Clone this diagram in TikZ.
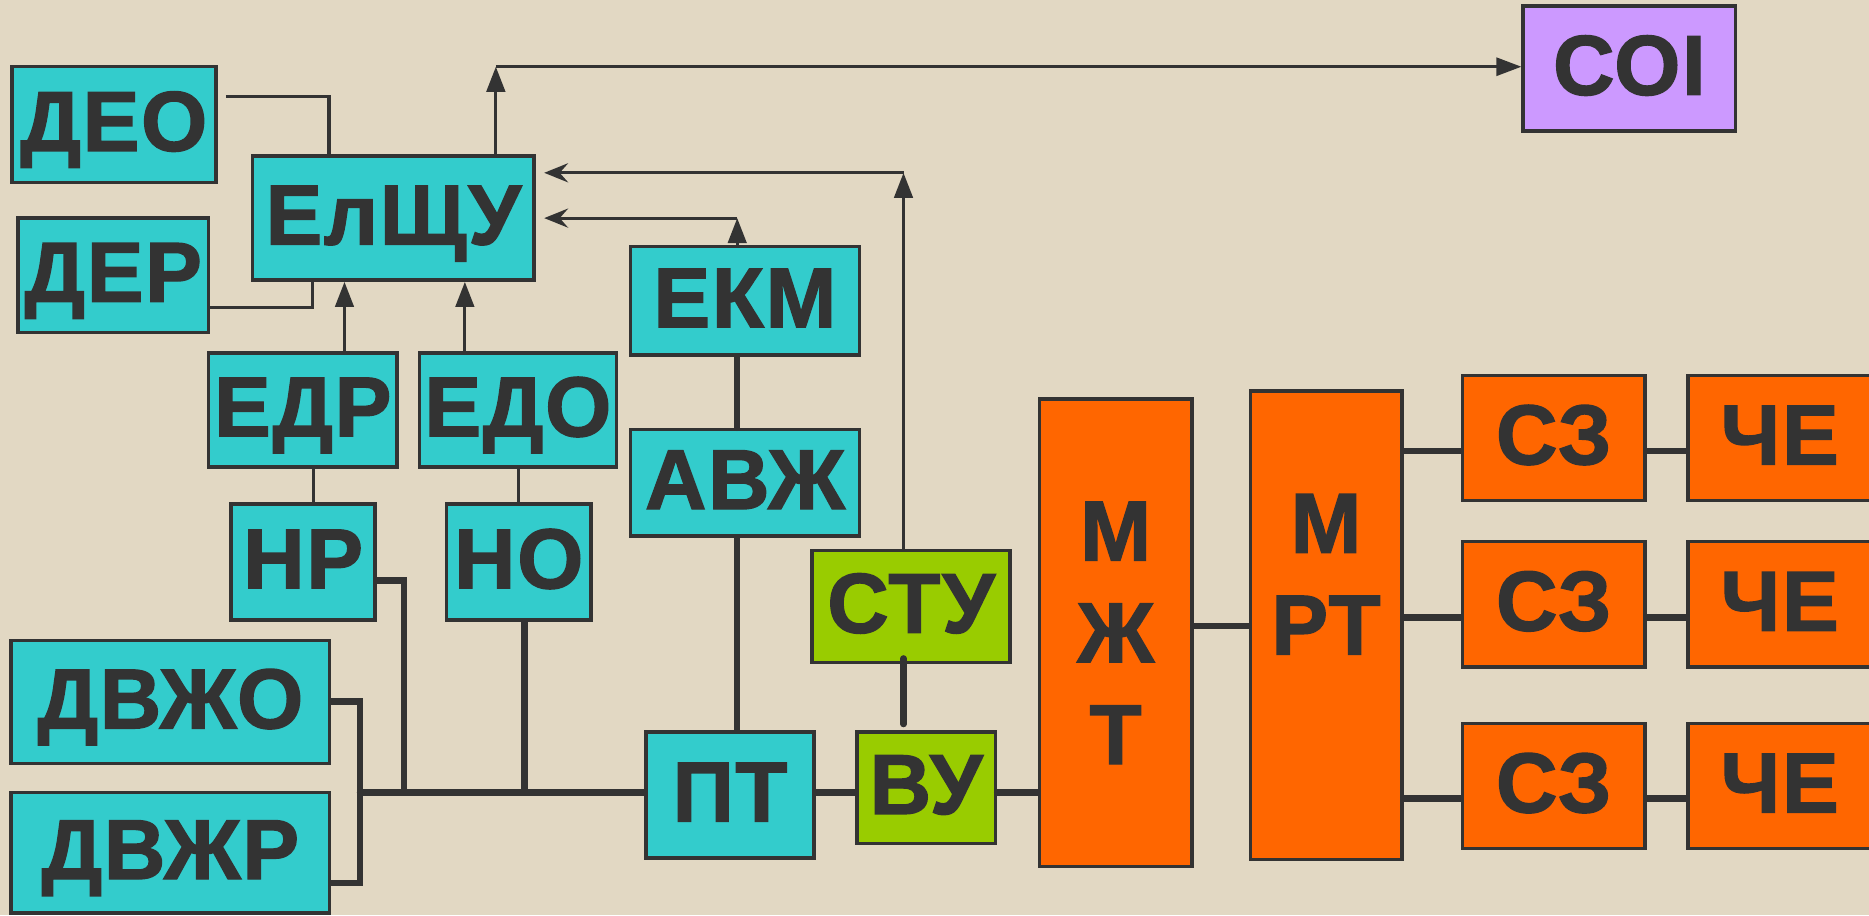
\documentclass[tikz,border=0pt]{standalone}
\usepackage{fontspec}
\setmainfont{Liberation Sans}
\newfontfamily\boxfont{Liberation Sans Bold}[FakeBold=1.6,LetterSpace=2]
\usetikzlibrary{arrows.meta}
\definecolor{bg}{HTML}{E2D8C3}
\definecolor{cy}{HTML}{33CCCC}
\definecolor{gr}{HTML}{99CC00}
\definecolor{orn}{HTML}{FF6600}
\definecolor{pur}{HTML}{CC99FF}
\definecolor{ink}{HTML}{333333}
\begin{document}
\begin{tikzpicture}[x=0.01cm,y=-0.01cm,
  box/.style={draw=ink,line width=0.85pt,inner sep=0pt,text=ink,font=\boxfont\fontsize{20.3}{24.3}\selectfont},
  one/.style={text height=0.511cm,text depth=0.07cm},
  tall/.style={align=center},
  thinln/.style={draw=ink,line width=0.75pt},
  bus/.style={draw=ink,line width=1.5pt,line cap=round},
  uparr/.style={-{Triangle[length=0.21cm,width=0.155cm]}},
  leftarr/.style={-{Stealth[length=0.2cm,width=0.16cm,inset=0.07cm]}}]
\useasboundingbox (0,0) rectangle (1568,768);
\clip (0,0) rectangle (1568,768);
\fill[bg] (0,0) rectangle (1568,768);

% nodes
\node[box,one,fill=cy,minimum width=1.71cm,minimum height=0.97cm] (deo) at (95.5,104.5) {ДЕО};
\node[box,one,fill=cy,minimum width=2.36cm,minimum height=1.04cm] (elshu) at (330,183) {ЕлЩУ};
\node[box,one,fill=cy,minimum width=1.60cm,minimum height=0.96cm] (der) at (95,231) {ДЕР};
\node[box,one,fill=cy,minimum width=1.92cm,minimum height=0.91cm] (ekm) at (625,252.5) {ЕКМ};
\node[box,one,fill=cy,minimum width=1.58cm,minimum height=0.96cm] (edr) at (254,344) {ЕДР};
\node[box,one,fill=cy,minimum width=1.65cm,minimum height=0.96cm] (edo) at (434.5,344) {ЕДО};
\node[box,one,fill=cy,minimum width=1.92cm,minimum height=0.89cm] (avzh) at (625,405) {АВЖ};
\node[box,one,fill=cy,minimum width=1.21cm,minimum height=0.97cm] (nr) at (254.3,471.5) {НР};
\node[box,one,fill=cy,minimum width=1.21cm,minimum height=0.97cm] (no) at (435.2,471.5) {НО};
\node[box,one,fill=gr,minimum width=1.66cm,minimum height=0.94cm] (stu) at (764.4,508.8) {СТУ};
\node[box,one,fill=cy,minimum width=2.67cm,minimum height=1.03cm] (dvzho) at (143,589) {ДВЖО};
\node[box,one,fill=cy,minimum width=2.67cm,minimum height=1.01cm] (dvzhr) at (143,715.4) {ДВЖР};
\node[box,one,fill=cy,minimum width=1.41cm,minimum height=1.06cm] (pt) at (612.5,667) {ПТ};
\node[box,one,fill=gr,minimum width=1.16cm,minimum height=0.935cm] (vu) at (777,660.8) {ВУ};
\node[box,tall,fill=orn,minimum width=1.28cm,minimum height=3.92cm] (mzht) at (936,531) {М\\Ж\\Т};
\node[box,tall,fill=orn,minimum width=1.27cm,minimum height=3.93cm] (mrt) at (1112.5,524.5) {М\\РТ\\\vphantom{Т}};
\foreach \i/\yc in {1/367.5,2/507,3/659.5}{
  \node[box,one,fill=orn,minimum width=1.53cm,minimum height=1.05cm] (sz\i) at (1303.5,\yc) {СЗ};
  \node[box,one,fill=orn,minimum width=1.54cm,minimum height=1.05cm] (che\i) at (1493,\yc) {ЧЕ};
}
\node[box,one,fill=pur,minimum width=1.78cm,minimum height=1.05cm] (soi) at (1367,57.5) {СОІ};

% thin connectors
\coordinate (k1) at (276,81);
\draw[thinln,shorten <=0.07cm] (deo.east |- k1) -- (k1) -- (k1 |- elshu.north);
\coordinate (k2) at (262,258);
\draw[thinln] (der.east |- k2) -- (k2) -- (k2 |- elshu.south);
\coordinate (k3) at (289,0);
\draw[thinln,uparr] (edr.north -| k3) -- (elshu.south -| k3);
\coordinate (k4) at (390,0);
\draw[thinln,uparr] (edo.north -| k4) -- (elshu.south -| k4);
\coordinate (k5) at (416,56);
\draw[thinln,uparr] (elshu.north -| k5) -- (k5);
\draw[thinln,-{Triangle[length=0.21cm,width=0.15cm]}] (k5) -- (k5 -| soi.west);
\coordinate (k6) at (758,145);
\draw[thinln,uparr] (stu.north -| k6) -- (k6);
\draw[thinln,leftarr,shorten >=0.07cm] (k6) -- (k6 -| elshu.east);
\coordinate (k7) at (618.5,183);
\draw[thinln,uparr] (ekm.north -| k7) -- (k7);
\draw[thinln,leftarr,shorten >=0.07cm] (k7) -- (k7 -| elshu.east);
\coordinate (k8) at (263,0);
\draw[thinln] (edr.south -| k8) -- (nr.north -| k8);
\coordinate (k9) at (435,0);
\draw[thinln] (edo.south -| k9) -- (no.north -| k9);

% thick connectors
\coordinate (b0) at (302,665);
\coordinate (k10) at (339,487);
\draw[bus] (nr.east |- k10) -- (k10) -- (k10 |- b0);
\coordinate (k11) at (440,523);
\draw[bus] (no.south -| k11) -- (b0 -| k11);
\coordinate (k12) at (302,588.6);
\coordinate (k13) at (302,741);
\draw[bus] (dvzho.east |- k12) -- (k12) -- (k13) -- (dvzhr.east |- k13);
\draw[bus] (b0) -- (b0 -| pt.west);
\draw[bus] (pt.east |- b0) -- (vu.west |- b0);
\draw[bus] (vu.east |- b0) -- (mzht.west |- b0);
\coordinate (k14) at (0,525);
\draw[bus] (mzht.east |- k14) -- (mrt.west |- k14);
\coordinate (xE) at (618.3,0);
\draw[bus] (ekm.south -| xE) -- (avzh.north -| xE);
\draw[bus] (avzh.south -| xE) -- (pt.north -| xE);
\coordinate (xS) at (758,0);
\draw[bus,shorten <=-0.05cm,shorten >=0.05cm] (stu.south -| xS) -- (vu.north -| xS);
\foreach \i/\yl in {1/378.4,2/518,3/670}{
  \coordinate (r\i) at (0,\yl);
  \draw[bus] (mrt.east |- r\i) -- (sz\i.west |- r\i);
  \draw[bus] (sz\i.east |- r\i) -- (che\i.west |- r\i);
}
\end{tikzpicture}
\end{document}
